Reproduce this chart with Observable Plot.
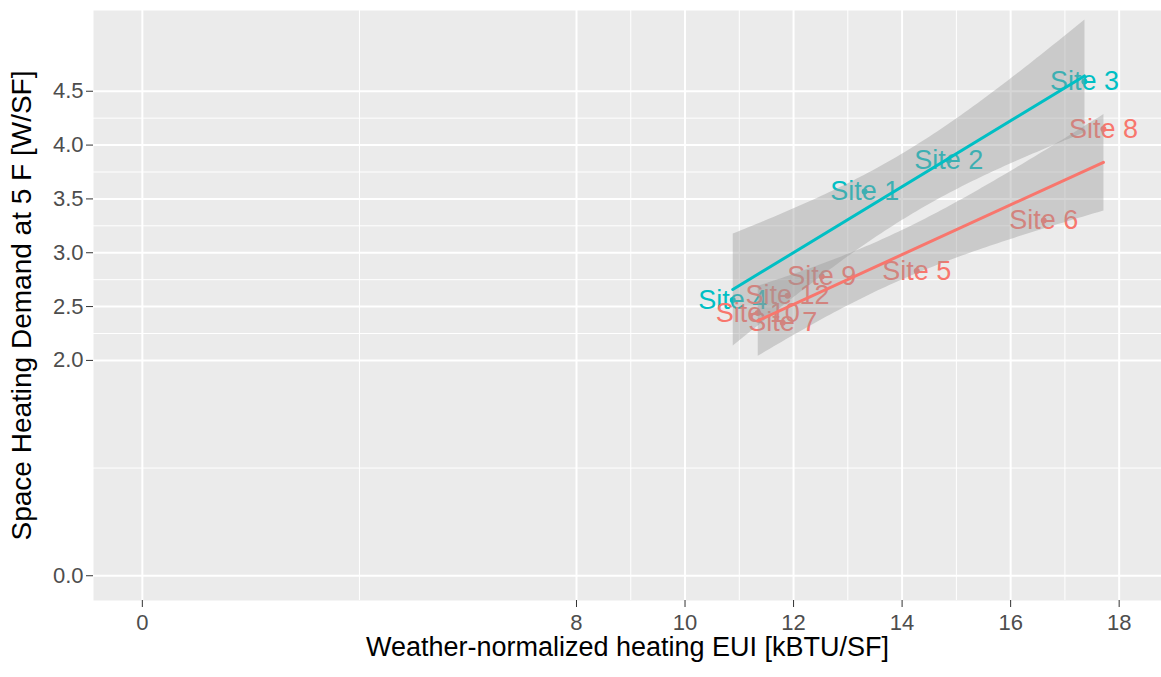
<!DOCTYPE html>
<html>
<head>
<meta charset="utf-8">
<script src="https://cdn.jsdelivr.net/npm/d3@7"></script>
<script src="https://cdn.jsdelivr.net/npm/@observablehq/plot@0.6"></script>
<style>
  html, body { margin: 0; padding: 0; background: #ffffff; }
  #chart { width: 1161px; height: 677px; overflow: hidden; }
</style>
</head>
<body>
<div id="chart"></div>
<script>
// ---- data ----
const sites  = ["Site 1", "Site 2", "Site 3", "Site 4", "Site 5", "Site 6", "Site 7", "Site 8", "Site 9", "Site 10", "Site 12"];
const eui    = [13.31, 14.86, 17.36, 10.88, 14.27, 16.61, 11.80, 17.71, 12.52, 11.34, 11.89];
const demand = [3.57, 3.86, 4.59, 2.56, 2.83, 3.30, 2.35, 4.15, 2.78, 2.44, 2.60];
const group  = ["B", "B", "B", "B", "A", "A", "A", "A", "A", "A", "A"];

const groupNames  = ["A", "B"];
const groupColors = ["#F8766D", "#00BFC4"];

const xTicks = [0, 8, 10, 12, 14, 16, 18];
const xMinor = [4, 9, 11, 13, 15, 17];
const yTicks = [0, 2, 2.5, 3, 3.5, 4, 4.5];
const yMinor = [1, 2.25, 2.75, 3.25, 3.75, 4.25];

const xTitle = "Weather-normalized heating EUI [kBTU/SF]";
const yTitle = "Space Heating Demand at 5 F [W/SF]";

const data = sites.map((s, i) => ({site: s, eui: eui[i], demand: demand[i], group: group[i]}));

const chart = Plot.plot({
  width: 1161,
  height: 677,
  marginLeft: 93,
  marginRight: 0,
  marginTop: 10,
  marginBottom: 77,
  style: {fontFamily: "'Liberation Sans', Arial, sans-serif", background: "#ffffff"},
  x: {domain: [-0.9, 18.78]},
  y: {domain: [-0.23, 5.25]},
  color: {domain: groupNames, range: groupColors},
  marks: [
    Plot.frame({fill: "#EBEBEB", stroke: null}),
    Plot.ruleX(xMinor, {stroke: "#ffffff", strokeWidth: 1}),
    Plot.ruleY(yMinor, {stroke: "#ffffff", strokeWidth: 1}),
    Plot.ruleX(xTicks, {stroke: "#ffffff", strokeWidth: 2}),
    Plot.ruleY(yTicks, {stroke: "#ffffff", strokeWidth: 2}),
    Plot.axisX({ticks: xTicks, tickFormat: d => String(d), tickSize: 7, tickPadding: 7,
                stroke: "#333333", fill: "#4D4D4D", fontSize: 22, label: null}),
    Plot.axisY({ticks: yTicks, tickFormat: d3.format(".1f"), tickSize: 7, tickPadding: 3,
                stroke: "#333333", fill: "#4D4D4D", fontSize: 22, label: null}),
    Plot.dot(data, {x: "eui", y: "demand", fill: "group", r: 3}),
    Plot.text(data, {x: "eui", y: "demand", text: "site", fill: "group", fontSize: 27}),
    Plot.linearRegressionY(data, {x: "eui", y: "demand", stroke: "group", fill: "#999999",
                                  fillOpacity: 0.4, strokeWidth: 3, ci: 0.95}),
    Plot.text([xTitle], {frameAnchor: "bottom", textAnchor: "middle", dy: 55, fontSize: 27, fill: "#000000"}),
    Plot.text([yTitle], {frameAnchor: "left", textAnchor: "middle", rotate: -90, dx: -71, fontSize: 28, fill: "#000000"})
  ]
});

document.getElementById("chart").appendChild(chart);
</script>
</body>
</html>
